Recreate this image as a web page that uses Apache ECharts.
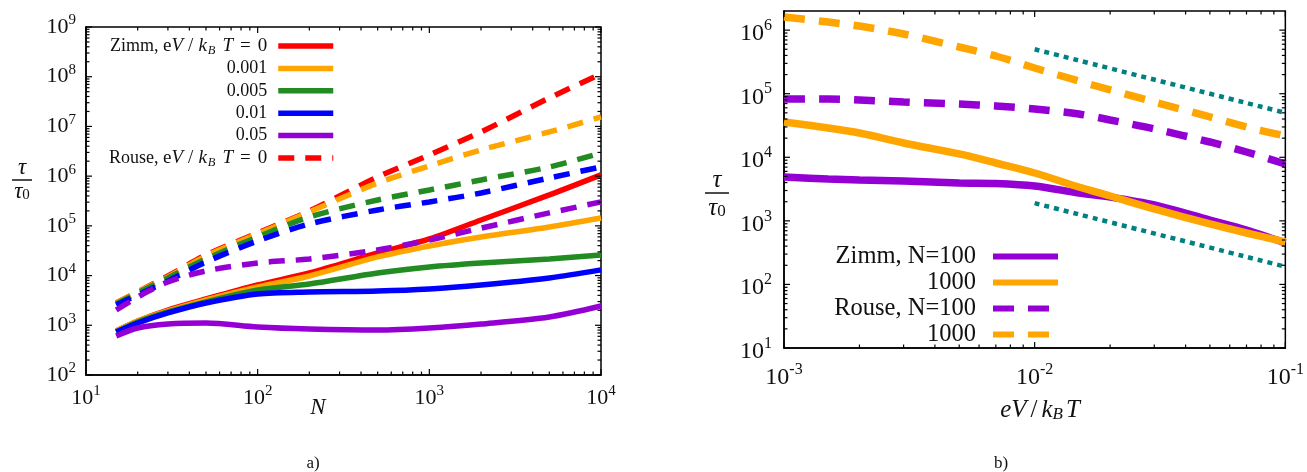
<!DOCTYPE html>
<html>
<head>
<meta charset="utf-8">
<script src="https://cdn.jsdelivr.net/npm/echarts@6/dist/echarts.min.js"></script>
<style>
html,body{margin:0;padding:0;background:#fff;}
#chart{width:1307px;height:472px;}
</style>
</head>
<body>
<div id="chart"></div>
<script>
// ---- panel a: tau/tau0 against N ----
var nValues = [15, 20, 30, 50, 100, 200, 500, 1000, 2000, 5000, 10000];
var zimm0    = [767, 1220, 2030, 3380, 6470, 11300, 28500, 54500, 131000, 419000, 1060000];
var zimm001  = [767, 1220, 1940, 3230, 5900, 9820, 23700, 39400, 59800, 95100, 144000];
var zimm005  = [733, 1160, 1850, 2950, 5130, 6780, 11300, 14900, 17900, 21600, 25900];
var zimm01   = [733, 1110, 1770, 2810, 4270, 4680, 4900, 5380, 6470, 8960, 13000];
var zimm05   = [610, 883, 1060, 1110, 925, 843, 804, 883, 1060, 1470, 2440];
var rouse0   = [2810, 4680, 9820, 25950, 71950, 199500, 964000, 2670000, 7750000, 37400000, 114000000];
var rouse001 = [2810, 4680, 9380, 24800, 68700, 190500, 729000, 1600000, 3370000, 7750000, 15500000];
var rouse005 = [2690, 4470, 8960, 21600, 59800, 151000, 332000, 527000, 839000, 1530000, 2930000];
var rouse01  = [2560, 4070, 7790, 18800, 49700, 109000, 209000, 303000, 459000, 921000, 1530000];
var rouse05  = [2030, 3710, 7430, 12400, 17900, 21600, 32700, 52000, 90000, 182000, 303000];

// ---- panel b: tau/tau0 against eV/kBT ----
var eVValues   = [0.001, 0.0015, 0.002, 0.003, 0.005, 0.007, 0.01, 0.015, 0.02, 0.03, 0.05, 0.07, 0.1];
var rouseN1000 = [1610000, 1340000, 1160000, 870000, 543000, 392000, 254000, 158000, 115000, 74100, 43100, 29900, 21600];
var rouseN100  = [82600, 82600, 79700, 74100, 68900, 64100, 57500, 48000, 38600, 27900, 17400, 12100, 7840];
var zimmN1000  = [35900, 28900, 24100, 16800, 11300, 8130, 5660, 3410, 2460, 1540, 893, 644, 465];
var zimmN100   = [4900, 4550, 4400, 4240, 3940, 3870, 3530, 2740, 2370, 1780, 1030, 718, 449];
// slope -1 guide lines
var guideEV    = [0.01, 0.1];
var guideUpper = [500000, 50000];
var guideLower = [1900, 190];

// axis ticks
var aXTicks = [10, 100, 1000, 10000];
var aYTicks = [1e2, 1e3, 1e4, 1e5, 1e6, 1e7, 1e8, 1e9];
var bXTicks = [0.001, 0.01, 0.1];
var bYTicks = [10, 1e2, 1e3, 1e4, 1e5, 1e6];
var bYMax = 2e6;

var SERIF = '"Liberation Serif", "DejaVu Serif", serif';

var mychart = echarts.init(document.getElementById('chart'));

// 10^n labels
function powLabel(v) {
    var e = Math.round(Math.log10(v));
    if (Math.abs(Math.log10(v) - e) > 1e-6) return '';
    return '{b|10}{s|' + e + '}';
}
function labelRich(big, small, lh) {
    return {
        b: {fontFamily: SERIF, fontSize: big, color: '#111', lineHeight: lh},
        s: {fontFamily: SERIF, fontSize: small, color: '#111', verticalAlign: 'top'}
    };
}

// minor ticks 2..9 in each decade
function minorTicks(lo, hi) {
    var out = [];
    for (var d = lo; d < hi * 0.999; d *= 10) {
        for (var k = 2; k <= 9; k++) {
            if (d * k < hi * 0.999) out.push(d * k);
        }
    }
    return out;
}
function tickData(xr, yr, xMaj, yMaj) {
    var d = [];
    xMaj.forEach(function (v) { d.push([v, yr[0], 0, 6]); });
    minorTicks(xr[0], xr[1]).forEach(function (v) { d.push([v, yr[0], 0, 3.5]); });
    yMaj.forEach(function (v) { d.push([xr[0], v, 1, 6]); });
    minorTicks(yr[0], yr[1]).forEach(function (v) { d.push([xr[0], v, 1, 3.5]); });
    return d;
}
function drawTicks(params, api) {
    var cs = params.coordSys;
    var p = api.coord([api.value(0), api.value(1)]);
    var len = api.value(3);
    var st = {stroke: '#000', lineWidth: 1.2};
    if (api.value(2) === 0) {
        return {type: 'group', children: [
            {type: 'line', shape: {x1: p[0], y1: cs.y + cs.height, x2: p[0], y2: cs.y + cs.height - len}, style: st},
            {type: 'line', shape: {x1: p[0], y1: cs.y, x2: p[0], y2: cs.y + len}, style: st}
        ]};
    }
    return {type: 'group', children: [
        {type: 'line', shape: {x1: cs.x, y1: p[1], x2: cs.x + len, y2: p[1]}, style: st},
        {type: 'line', shape: {x1: cs.x + cs.width, y1: p[1], x2: cs.x + cs.width - len, y2: p[1]}, style: st}
    ]};
}

function curve(name, xs, ys, color, type, width, idx) {
    return {
        name: name, type: 'line', xAxisIndex: idx, yAxisIndex: idx,
        data: xs.map(function (v, i) { return [v, ys[i]]; }),
        symbol: 'none', smooth: 0.3, animation: false,
        lineStyle: {color: color, width: width, type: type, cap: 'butt'},
        itemStyle: {color: color}
    };
}

var RED = '#ff0000', ORANGE = '#ffa500', GREEN = '#228b22', BLUE = '#0000ff', PURPLE = '#9400d3', TEAL = '#008080';
var dashA = [16, 11], dashB = [21, 14];

var mathA = '{m|e}{i|V}{sl|/}{i|k}{sb|B}{i|T}{eq|=}{m|0}';
var legendTextA = {
    'Zimm 0': '{r|Zimm, }' + mathA,
    'Zimm 0.001': '{r|0.001}',
    'Zimm 0.005': '{r|0.005}',
    'Zimm 0.01': '{r|0.01}',
    'Zimm 0.05': '{r|0.05}',
    'Rouse 0': '{r|Rouse, }' + mathA
};
var legendTextB = {
    'Zimm N=100': 'Zimm, N=100',
    'Zimm N=1000': '1000',
    'Rouse N=100': 'Rouse, N=100',
    'Rouse N=1000': '1000'
};

var option = {
    backgroundColor: '#fff',
    animation: false,
    grid: [
        {left: 86, top: 27, width: 515, height: 348, show: true, borderColor: '#000', borderWidth: 1.5},
        {left: 784, top: 11, width: 503, height: 337, show: true, borderColor: '#000', borderWidth: 1.5}
    ],
    xAxis: [
        {type: 'log', gridIndex: 0, min: 10, max: 10000, logBase: 10,
            axisLine: {lineStyle: {color: '#000', width: 1.5}}, axisTick: {show: false}, splitLine: {show: false},
            axisLabel: {formatter: powLabel, margin: 9, rich: labelRich(22, 15, 28)}},
        {type: 'log', gridIndex: 1, min: 0.001, max: 0.1, logBase: 10,
            axisLine: {lineStyle: {color: '#000', width: 1.5}}, axisTick: {show: false}, splitLine: {show: false},
            axisLabel: {formatter: powLabel, margin: 14, rich: labelRich(24, 16, 32)}}
    ],
    yAxis: [
        {type: 'log', gridIndex: 0, min: 100, max: 1e9, logBase: 10,
            axisLine: {lineStyle: {color: '#000', width: 1.5}}, axisTick: {show: false}, splitLine: {show: false},
            axisLabel: {formatter: powLabel, margin: 10, rich: labelRich(22, 15, 28)}},
        {type: 'log', gridIndex: 1, min: 10, max: bYMax, logBase: 10,
            axisLine: {lineStyle: {color: '#000', width: 1.5}}, axisTick: {show: false}, splitLine: {show: false},
            axisLabel: {formatter: powLabel, margin: 12, padding: [7, 0, 0, 0], rich: labelRich(24, 16, 32)}}
    ],
    legend: [
        {
            data: ['Zimm 0', 'Zimm 0.001', 'Zimm 0.005', 'Zimm 0.01', 'Zimm 0.05', 'Rouse 0'],
            orient: 'vertical', right: 1307 - 336, top: 35, align: 'right', padding: 0,
            itemWidth: 55, itemHeight: 10, itemGap: 0.4, selectedMode: false,
            itemStyle: {opacity: 0}, lineStyle: {width: 5.5},
            formatter: function (name) { return legendTextA[name]; },
            textStyle: {
                width: 175, padding: [0, 6, 0, 0], color: '#111', lineHeight: 22, fontSize: 18, fontFamily: SERIF,
                rich: {
                    r: {fontFamily: SERIF, fontSize: 18, color: '#111', lineHeight: 22},
                    m: {fontFamily: SERIF, fontSize: 19, color: '#111', lineHeight: 22},
                    i: {fontFamily: SERIF, fontSize: 19, fontStyle: 'italic', color: '#111', lineHeight: 22},
                    sl: {fontFamily: SERIF, fontSize: 19, color: '#111', lineHeight: 22, padding: [0, 5, 0, 5]},
                    eq: {fontFamily: SERIF, fontSize: 19, color: '#111', lineHeight: 22, padding: [0, 7, 0, 7]},
                    sb: {fontFamily: SERIF, fontSize: 12.5, fontStyle: 'italic', color: '#111', verticalAlign: 'bottom', padding: [0, 7, 0, 1]}
                }
            }
        },
        {
            data: ['Zimm N=100', 'Zimm N=1000', 'Rouse N=100', 'Rouse N=1000'],
            orient: 'vertical', right: 1307 - 1061, top: 244, align: 'right', padding: 0,
            itemWidth: 65, itemHeight: 10, itemGap: 1, selectedMode: false,
            itemStyle: {opacity: 0}, lineStyle: {width: 6},
            formatter: function (name) { return legendTextB[name]; },
            textStyle: {width: 155, padding: [0, 12, 0, 0], fontFamily: SERIF, fontSize: 24.5, lineHeight: 24, color: '#111'}
        }
    ],
    graphic: [
        // panel a axis titles
        {type: 'text', x: 22, y: 168, style: {text: 'τ', font: 'italic 23px ' + SERIF, fill: '#111', align: 'center', verticalAlign: 'middle'}},
        {type: 'line', shape: {x1: 12, y1: 180, x2: 32, y2: 180}, style: {stroke: '#111', lineWidth: 1.5}},
        {type: 'text', x: 22, y: 192, style: {text: '{t|τ}{z|0}', align: 'center', verticalAlign: 'middle',
            rich: {t: {font: 'italic 23px ' + SERIF, fill: '#111', lineHeight: 22}, z: {font: '15px ' + SERIF, fill: '#111', verticalAlign: 'bottom'}}}},
        {type: 'text', x: 318, y: 408, style: {text: 'N', font: 'italic 23px ' + SERIF, fill: '#111', align: 'center', verticalAlign: 'middle'}},
        {type: 'text', x: 313, y: 464, style: {text: 'a)', font: '17px ' + SERIF, fill: '#111', align: 'center', verticalAlign: 'middle'}},
        // panel b axis titles
        {type: 'text', x: 717, y: 180, style: {text: 'τ', font: 'italic 25px ' + SERIF, fill: '#111', align: 'center', verticalAlign: 'middle'}},
        {type: 'line', shape: {x1: 705, y1: 193, x2: 729, y2: 193}, style: {stroke: '#111', lineWidth: 1.5}},
        {type: 'text', x: 717, y: 208, style: {text: '{t|τ}{z|0}', align: 'center', verticalAlign: 'middle',
            rich: {t: {font: 'italic 25px ' + SERIF, fill: '#111', lineHeight: 25}, z: {font: '17px ' + SERIF, fill: '#111', verticalAlign: 'bottom'}}}},
        {type: 'text', x: 1040, y: 410, style: {text: '{i|eV}{r|/}{i|k}{s|B}{i|T}', align: 'center', verticalAlign: 'middle',
            rich: {i: {font: 'italic 25px ' + SERIF, fill: '#111', lineHeight: 26}, r: {font: '25px ' + SERIF, fill: '#111', lineHeight: 26, padding: [0, 4, 0, 4]},
                s: {font: 'italic 17px ' + SERIF, fill: '#111', verticalAlign: 'bottom', padding: [0, 3, 0, 0]}}}},
        {type: 'text', x: 1001, y: 464, style: {text: 'b)', font: '17px ' + SERIF, fill: '#111', align: 'center', verticalAlign: 'middle'}}
    ],
    series: [
        curve('Zimm 0', nValues, zimm0, RED, 'solid', 5.5, 0),
        curve('Zimm 0.001', nValues, zimm001, ORANGE, 'solid', 5.5, 0),
        curve('Zimm 0.005', nValues, zimm005, GREEN, 'solid', 5.5, 0),
        curve('Zimm 0.01', nValues, zimm01, BLUE, 'solid', 5.5, 0),
        curve('Zimm 0.05', nValues, zimm05, PURPLE, 'solid', 5.5, 0),
        curve('Rouse 0', nValues, rouse0, RED, dashA, 5.5, 0),
        curve('Rouse 0.001', nValues, rouse001, ORANGE, dashA, 5.5, 0),
        curve('Rouse 0.005', nValues, rouse005, GREEN, dashA, 5.5, 0),
        curve('Rouse 0.01', nValues, rouse01, BLUE, dashA, 5.5, 0),
        curve('Rouse 0.05', nValues, rouse05, PURPLE, dashA, 5.5, 0),

        curve('Zimm N=100', eVValues, zimmN100, PURPLE, 'solid', 7.5, 1),
        curve('Zimm N=1000', eVValues, zimmN1000, ORANGE, 'solid', 7.5, 1),
        curve('Rouse N=100', eVValues, rouseN100, PURPLE, dashB, 7.5, 1),
        curve('Rouse N=1000', eVValues, rouseN1000, ORANGE, dashB, 7.5, 1),
        curve('guide upper', guideEV, guideUpper, TEAL, [5, 5], 4.5, 1),
        curve('guide lower', guideEV, guideLower, TEAL, [5, 5], 4.5, 1),

        {type: 'custom', name: 'ticks a', xAxisIndex: 0, yAxisIndex: 0, silent: true, z: 5,
            renderItem: drawTicks, data: tickData([10, 10000], [100, 1e9], aXTicks, aYTicks)},
        {type: 'custom', name: 'ticks b', xAxisIndex: 1, yAxisIndex: 1, silent: true, z: 5,
            renderItem: drawTicks, data: tickData([0.001, 0.1], [10, bYMax], bXTicks, bYTicks)}
    ]
};
mychart.setOption(option);
</script>
</body>
</html>
